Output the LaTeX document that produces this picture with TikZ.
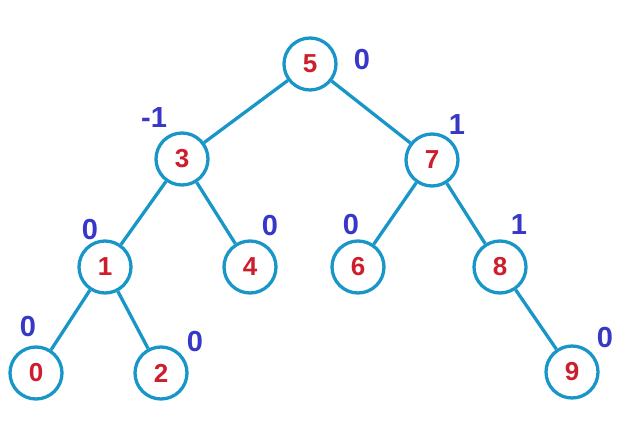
\documentclass[tikz,border=0pt]{standalone}
\usepackage{fontspec}
\setmainfont{Liberation Sans}
\definecolor{ring}{RGB}{25,150,200}
\definecolor{keyred}{RGB}{205,30,45}
\definecolor{balblue}{RGB}{55,55,200}
\begin{document}
\begin{tikzpicture}[x=1pt,y=-1pt,
  tnode/.style={circle,draw=ring,line width=3.3pt,minimum size=52pt,inner sep=0pt,fill=white,
    text=keyred,font=\fontsize{26}{26}\selectfont\bfseries},
  edge/.style={draw=ring,line width=3.3pt},
  bal/.style={text=balblue,font=\fontsize{29}{29}\selectfont\bfseries,inner sep=0pt}]
\useasboundingbox (0,0) rectangle (628,422);
\node[tnode] (n5) at (310,64) {5};
\node[tnode] (n3) at (182,159) {3};
\node[tnode] (n7) at (432,160) {7};
\node[tnode] (n1) at (105,267) {1};
\node[tnode] (n4) at (250,267) {4};
\node[tnode] (n6) at (358,267) {6};
\node[tnode] (n8) at (500,267) {8};
\node[tnode] (n0) at (36,373) {0};
\node[tnode] (n2) at (161,373) {2};
\node[tnode] (n9) at (572,372) {9};
\draw[edge] (n5) -- (n3);
\draw[edge] (n5) -- (n7);
\draw[edge] (n3) -- (n1);
\draw[edge] (n3) -- (n4);
\draw[edge] (n7) -- (n6);
\draw[edge] (n7) -- (n8);
\draw[edge] (n1) -- (n0);
\draw[edge] (n1) -- (n2);
\draw[edge] (n8) -- (n9);
\node[bal] (b5) at (362,60) {0};
\node[bal] (b3) at (154,118) {-1};
\node[bal] (b7) at (457,125) {1};
\node[bal] (b1) at (90,230) {0};
\node[bal] (b4) at (270,226) {0};
\node[bal] (b6) at (351,225) {0};
\node[bal] (b8) at (519,225) {1};
\node[bal] (b0) at (28,327) {0};
\node[bal] (b2) at (195,342) {0};
\node[bal] (b9) at (605,338) {0};
\end{tikzpicture}
\end{document}
